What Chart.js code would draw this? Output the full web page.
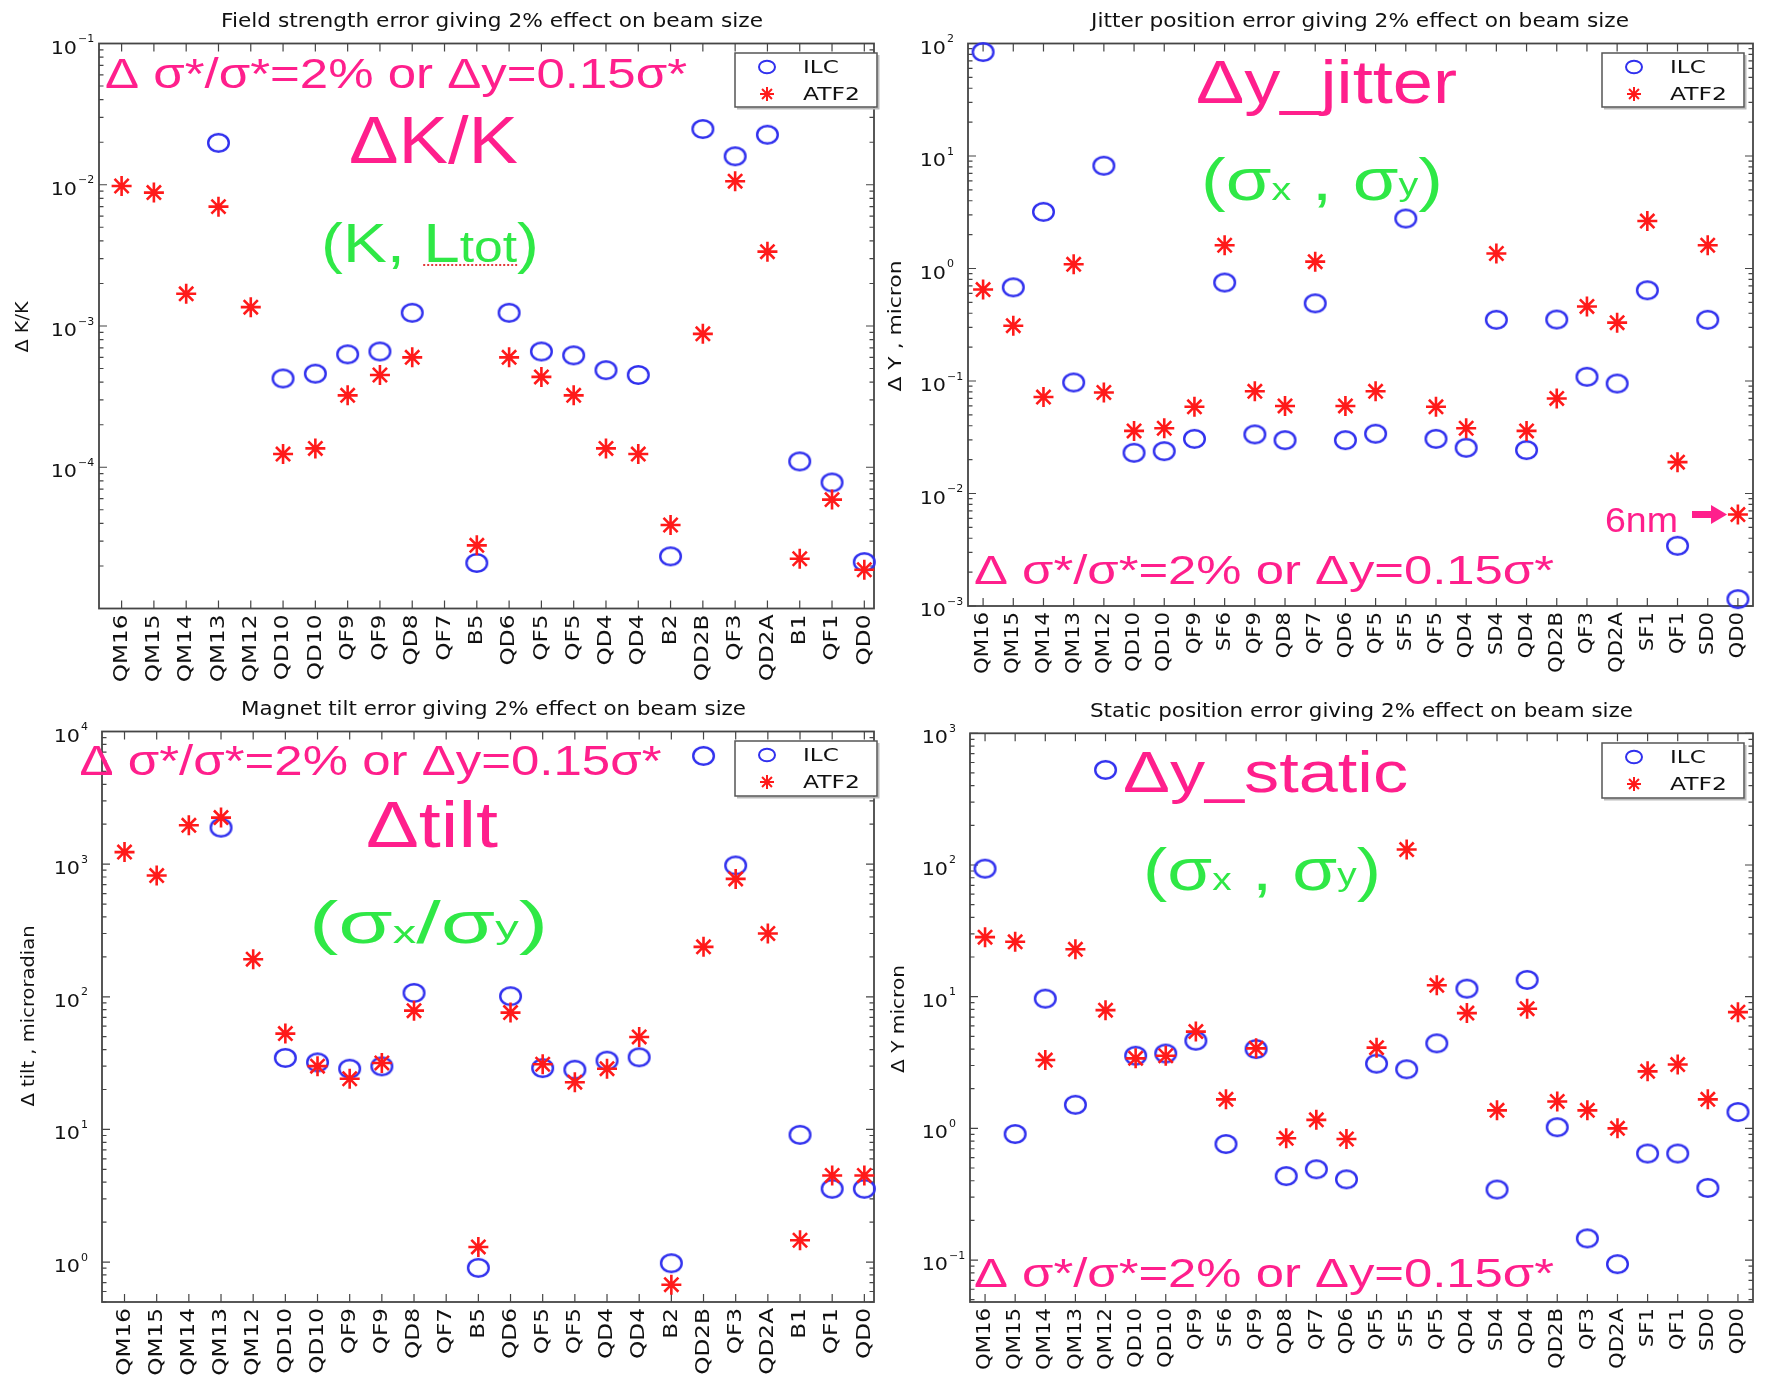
<!DOCTYPE html>
<html>
<head>
<meta charset="utf-8">
<title>Errors giving 2% effect on beam size: ILC vs ATF2</title>
<script src="https://cdn.jsdelivr.net/npm/chart.js@4.4.1/dist/chart.umd.min.js"></script>
<style>
  html, body { margin: 0; padding: 0; background: #fff; }
  #page { position: relative; width: 1781px; height: 1378px; overflow: hidden; background: #fff; }
  #page canvas { position: absolute; left: 0; top: 0; }
</style>
</head>
<body>
<div id="page">
  <canvas id="field" width="1781" height="1378"></canvas>
  <canvas id="jitter" width="1781" height="1378"></canvas>
  <canvas id="tilt" width="1781" height="1378"></canvas>
  <canvas id="static" width="1781" height="1378"></canvas>
</div>
<script>
// magnet names along the beam line
const magnetsLeft = ['QM16', 'QM15', 'QM14', 'QM13', 'QM12', 'QD10', 'QD10', 'QF9', 'QF9', 'QD8', 'QF7', 'B5',
  'QD6', 'QF5', 'QF5', 'QD4', 'QD4', 'B2', 'QD2B', 'QF3', 'QD2A', 'B1', 'QF1', 'QD0'];
const magnetsRight = ['QM16', 'QM15', 'QM14', 'QM13', 'QM12', 'QD10', 'QD10', 'QF9', 'SF6', 'QF9', 'QD8', 'QF7',
  'QD6', 'QF5', 'SF5', 'QF5', 'QD4', 'SD4', 'QD4', 'QD2B', 'QF3', 'QD2A', 'SF1', 'QF1', 'SD0', 'QD0'];

// field strength error dK/K
const fieldIlc = [null, null, null, 0.0198, null, 4.25e-4, 4.6e-4, 6.3e-4, 6.6e-4, 1.24e-3, null, 2.1e-5,
  1.24e-3, 6.6e-4, 6.2e-4, 4.87e-4, 4.5e-4, 2.34e-5, 0.0248, 0.0159, 0.0226, 1.1e-4, 7.8e-5, 2.13e-5];
const fieldAtf2 = [9.8e-3, 8.8e-3, 1.69e-3, 7.0e-3, 1.36e-3, 1.24e-4, 1.36e-4, 3.23e-4, 4.5e-4, 6.0e-4, null, 2.8e-5,
  6.0e-4, 4.36e-4, 3.23e-4, 1.36e-4, 1.24e-4, 3.9e-5, 8.8e-4, 0.0106, 3.36e-3, 2.25e-5, 5.9e-5, 1.88e-5];

// jitter position error, micron
const jitterIlc = [84, 0.68, 3.19, 0.097, 8.2, 0.023, 0.0238, 0.0306, 0.75, 0.0335, 0.0298, 0.49,
  0.0298, 0.034, 2.78, 0.0306, 0.0255, 0.35, 0.0243, 0.352, 0.109, 0.095, 0.64, 0.00343, 0.35, 0.00115];
const jitterAtf2 = [0.65, 0.31, 0.072, 1.09, 0.079, 0.036, 0.038, 0.059, 1.61, 0.081, 0.060, 1.15,
  0.060, 0.081, null, 0.059, 0.038, 1.36, 0.036, 0.070, 0.46, 0.33, 2.64, 0.019, 1.61, 0.0065];

// magnet tilt error, microradian
const tiltIlc = [null, null, null, 1884, null, 34.6, 32, 28.7, 29.9, 107, null, 0.905,
  101, 29, 28.2, 33, 35, 0.98, 6546, 977, null, 9.1, 3.57, 3.57];
const tiltAtf2 = [1233, 820, 1963, 2244, 192, 52.8, 30, 24.1, 31.7, 78.6, null, 1.30,
  76, 31, 22.7, 28.7, 49.8, 0.675, 238, 774, 300, 1.46, 4.5, 4.5];

// static position error, micron
const staticIlc = [93.8, 0.905, 9.66, 1.51, 527, 3.56, 3.7, 4.63, 0.76, 4.0, 0.434, 0.489,
  0.41, 3.1, 2.81, 4.42, 11.5, 0.343, 13.4, 1.02, 0.146, 0.093, 0.644, 0.644, 0.353, 1.33];
const staticAtf2 = [28.3, 26.1, 3.3, 22.9, 7.9, 3.4, 3.56, 5.43, 1.66, 4.05, 0.84, 1.16,
  0.83, 4.1, 131, 12.2, 7.5, 1.37, 8.1, 1.6, 1.37, 1.0, 2.71, 3.05, 1.66, 7.63];

// decade tick labels (exponents) per panel
const fieldDecades = [-1, -2, -3, -4];
const jitterDecades = [2, 1, 0, -1, -2, -3];
const tiltDecades = [4, 3, 2, 1, 0];
const staticDecades = [3, 2, 1, 0, -1];

const W = 1781, H = 1378;
const PINK = '#ff1f8c', GREEN = '#2fe846', BLUE = '#3030ee', RED = '#ff1a1a', AXIS = '#454545';
const SANS = '"DejaVu Sans", sans-serif';
const ARIAL = '"Liberation Sans", Arial, sans-serif';
const BIG = 'Δ σ*/σ*=2% or Δy=0.15σ*';

function drawText(ctx, s, x, y, o) {
  ctx.save();
  ctx.font = o.size + 'px ' + (o.family || SANS);
  ctx.fillStyle = o.color || '#111';
  ctx.textBaseline = o.baseline || 'alphabetic';
  ctx.textAlign = 'left';
  const w = ctx.measureText(s).width;
  const sx = o.width ? o.width / w : (o.sx || 1);
  ctx.translate(x, y);
  if (o.rot) ctx.rotate(o.rot);
  ctx.scale(sx, 1);
  let dx = 0;
  if (o.align === 'center') dx = -w / 2;
  else if (o.align === 'right') dx = -w;
  ctx.fillText(s, dx, 0);
  ctx.restore();
  return w * sx;
}

// pieces of text in mixed sizes, squeezed/stretched to a target width
function drawRuns(ctx, runs, x, y, width, color) {
  let total = 0;
  runs.forEach(r => {
    ctx.font = r.size + 'px ' + ARIAL;
    r.w = ctx.measureText(r.t).width;
    total += r.w;
  });
  const sx = width / total;
  let cx = x;
  const pos = [];
  runs.forEach(r => {
    drawText(ctx, r.t, cx, y + (r.dy || 0), { size: r.size, family: ARIAL, color, sx });
    pos.push([cx, cx + r.w * sx]);
    cx += r.w * sx;
  });
  return pos;
}

function ringImage(w, h, lw) {
  const c = document.createElement('canvas');
  c.width = w + 4; c.height = h + 4;
  const g = c.getContext('2d');
  g.strokeStyle = BLUE; g.lineWidth = lw;
  g.beginPath();
  g.ellipse(c.width / 2, c.height / 2, w / 2 - lw / 2, h / 2 - lw / 2, 0, 0, 2 * Math.PI);
  g.stroke();
  return c;
}
const ring = ringImage(23, 20, 2.4);

function drawLegend(ctx, L) {
  const { x, y, w, h } = L;
  ctx.save();
  ctx.strokeStyle = '#bbb'; ctx.lineWidth = 2;
  ctx.beginPath(); ctx.moveTo(x + 2, y + h + 1.5); ctx.lineTo(x + w + 1.5, y + h + 1.5); ctx.lineTo(x + w + 1.5, y + 2); ctx.stroke();
  ctx.fillStyle = '#fff'; ctx.fillRect(x, y, w, h);
  ctx.strokeStyle = '#555'; ctx.lineWidth = 1.5; ctx.strokeRect(x, y, w, h);
  const mx = x + 32, r1 = y + 14, r2 = y + 41;
  ctx.strokeStyle = BLUE; ctx.lineWidth = 2;
  ctx.beginPath(); ctx.ellipse(mx, r1, 8, 6.3, 0, 0, 2 * Math.PI); ctx.stroke();
  ctx.strokeStyle = RED; ctx.lineWidth = 2;
  ctx.beginPath();
  for (let k = 0; k < 4; k++) {
    const a = k * Math.PI / 4;
    ctx.moveTo(mx - 7 * Math.cos(a), r2 - 7 * Math.sin(a));
    ctx.lineTo(mx + 7 * Math.cos(a), r2 + 7 * Math.sin(a));
  }
  ctx.stroke();
  ctx.restore();
  drawText(ctx, 'ILC', x + 68, r1 + 1, { size: 18, baseline: 'middle', sx: 1.28, color: '#111' });
  drawText(ctx, 'ATF2', x + 68, r2 + 1, { size: 18, baseline: 'middle', sx: 1.3, color: '#111' });
}

function sigmaPair(sep) {
  return [
    { t: '(', size: 60 }, { t: 'σ', size: 60 }, { t: 'x', size: 32 },
    { t: sep, size: 60 }, { t: 'σ', size: 60 }, { t: 'y', size: 32, dy: -5 }, { t: ')', size: 60 }
  ];
}

const panels = [
  {
    id: 'field', cats: magnetsLeft, ilc: fieldIlc, atf2: fieldAtf2, decades: fieldDecades,
    area: { left: 99, top: 43.5, right: 874, bottom: 608.5 }, xmin: 0.3, xmax: 24.3, ymin: 1e-5, ymax: 1e-1,
    title: 'Field strength error giving 2% effect on beam size', titleX: 492, titleY: 26.5, titleW: 542,
    yTitle: 'Δ K/K', yTitleX: 24, yTitleY: 327, yTitleW: 51, labelSx: 1.16,
    legend: { x: 735, y: 53, w: 142, h: 54 },
    notes(ctx) {
      drawText(ctx, BIG, 105, 88, { size: 42, family: ARIAL, color: PINK, width: 582 });
      drawText(ctx, 'ΔK/K', 349, 163, { size: 66, family: ARIAL, color: PINK, width: 169 });
      const pos = drawRuns(ctx, [{ t: '(K, ', size: 56 }, { t: 'L', size: 56 }, { t: 'tot', size: 44 }, { t: ')', size: 56 }],
        321, 262, 218, GREEN);
      ctx.save();
      ctx.strokeStyle = '#e23a3a'; ctx.lineWidth = 2; ctx.setLineDash([2, 2]);
      ctx.beginPath(); ctx.moveTo(pos[1][0], 265); ctx.lineTo(pos[2][1], 265); ctx.stroke();
      ctx.restore();
    }
  },
  {
    id: 'jitter', cats: magnetsRight, ilc: jitterIlc, atf2: jitterAtf2, decades: jitterDecades,
    area: { left: 968, top: 43.5, right: 1753, bottom: 606 }, xmin: 0.5, xmax: 26.5, ymin: 1e-3, ymax: 1e2,
    title: 'Jitter position error giving 2% effect on beam size', titleX: 1360, titleY: 26.5, titleW: 538,
    yTitle: 'Δ Y , micron', yTitleX: 897, yTitleY: 326, yTitleW: 131, labelSx: 1.06,
    legend: { x: 1602, y: 53, w: 142, h: 54 },
    notes(ctx) {
      drawText(ctx, 'Δy_jitter', 1196, 103, { size: 62, family: ARIAL, color: PINK, width: 261 });
      drawRuns(ctx, sigmaPair(' , '), 1201, 200, 242, GREEN);
      drawText(ctx, BIG, 974, 584, { size: 40, family: ARIAL, color: PINK, width: 580 });
      drawText(ctx, '6nm', 1605, 532, { size: 35, family: ARIAL, color: PINK, width: 73 });
      ctx.save();
      ctx.fillStyle = PINK;
      ctx.fillRect(1692, 511, 22, 7);
      ctx.beginPath(); ctx.moveTo(1711, 505); ctx.lineTo(1727, 514.5); ctx.lineTo(1711, 524); ctx.closePath(); ctx.fill();
      ctx.restore();
    }
  },
  {
    id: 'tilt', cats: magnetsLeft, ilc: tiltIlc, atf2: tiltAtf2, decades: tiltDecades,
    area: { left: 102, top: 731.5, right: 874, bottom: 1302 }, xmin: 0.3, xmax: 24.3, ymin: 0.5, ymax: 1e4,
    title: 'Magnet tilt error giving 2% effect on beam size', titleX: 493.5, titleY: 715, titleW: 505,
    yTitle: 'Δ tilt , microradian', yTitleX: 30, yTitleY: 1016, yTitleW: 181, labelSx: 1.16,
    legend: { x: 735, y: 741, w: 142, h: 55 },
    notes(ctx) {
      drawText(ctx, BIG, 79.5, 775, { size: 42, family: ARIAL, color: PINK, width: 582 });
      drawText(ctx, 'Δtilt', 366, 847, { size: 65, family: ARIAL, color: PINK, width: 132 });
      drawRuns(ctx, sigmaPair('/'), 309, 943, 239, GREEN);
    }
  },
  {
    id: 'static', cats: magnetsRight, ilc: staticIlc, atf2: staticAtf2, decades: staticDecades,
    area: { left: 970, top: 733.3, right: 1753, bottom: 1302 }, xmin: 0.5, xmax: 26.5, ymin: 0.048, ymax: 1e3,
    title: 'Static position error giving 2% effect on beam size', titleX: 1361.5, titleY: 716.5, titleW: 543,
    yTitle: 'Δ Y micron', yTitleX: 900, yTitleY: 1019, yTitleW: 108, labelSx: 1.06,
    legend: { x: 1602, y: 743, w: 142, h: 55 },
    notes(ctx) {
      drawText(ctx, 'Δy_static', 1123, 792, { size: 58, family: ARIAL, color: PINK, width: 285 });
      drawRuns(ctx, sigmaPair(' , '), 1143, 890, 238, GREEN);
      drawText(ctx, BIG, 974, 1287, { size: 40, family: ARIAL, color: PINK, width: 580 });
    }
  }
];

function framePlugin(p) {
  return {
    id: 'frame_' + p.id,
    beforeDatasetsDraw(chart) {
      const ctx = chart.ctx;
      const { left, top, right, bottom } = chart.chartArea;
      const xs = chart.scales.x, ys = chart.scales.y;
      ctx.save();
      ctx.strokeStyle = AXIS; ctx.lineWidth = 1.8;
      ctx.strokeRect(left, top, right - left, bottom - top);
      ctx.lineWidth = 1.2;
      ctx.beginPath();
      for (let i = 1; i <= p.cats.length; i++) {
        const px = xs.getPixelForValue(i);
        ctx.moveTo(px, bottom); ctx.lineTo(px, bottom - 8);
        ctx.moveTo(px, top); ctx.lineTo(px, top + 8);
      }
      const e0 = Math.floor(Math.log10(p.ymin)), e1 = Math.ceil(Math.log10(p.ymax));
      for (let e = e0; e <= e1; e++) {
        for (let m = 1; m <= 9; m++) {
          const v = m * Math.pow(10, e);
          if (v < p.ymin * 0.999 || v > p.ymax * 1.001) continue;
          const py = ys.getPixelForValue(v);
          const len = m === 1 ? 8 : 4.5;
          ctx.moveTo(left, py); ctx.lineTo(left + len, py);
          ctx.moveTo(right, py); ctx.lineTo(right - len, py);
        }
      }
      ctx.stroke();
      ctx.restore();

      // tick labels
      p.decades.forEach(e => {
        const py = ys.getPixelForValue(Math.pow(10, e));
        const w10 = drawText(ctx, '10', left - 22, py + 10, { size: 18, align: 'right', sx: 1.15, color: '#111' });
        drawText(ctx, String(e).replace('-', '\u2212'), left - 21, py - 1.5, { size: 10, sx: 1.1, color: '#111' });
      });
      p.cats.forEach((name, i) => {
        const px = xs.getPixelForValue(i + 1);
        drawText(ctx, name, px, bottom + 6, { size: 20, rot: -Math.PI / 2, align: 'right', baseline: 'middle', sx: p.labelSx, color: '#111' });
      });
      drawText(ctx, p.yTitle, p.yTitleX, p.yTitleY, { size: 17, rot: -Math.PI / 2, align: 'center', baseline: 'middle', width: p.yTitleW, color: '#111' });
      drawText(ctx, p.title, p.titleX, p.titleY, { size: 20, align: 'center', width: p.titleW, color: '#111' });
    },
    afterDraw(chart) {
      const ctx = chart.ctx;
      drawLegend(ctx, p.legend);
      p.notes(ctx);
    }
  };
}

function toPoints(vals) {
  return vals.map((v, i) => (v == null ? null : { x: i + 1, y: v })).filter(pt => pt);
}

panels.forEach(p => {
  const a = p.area;
  new Chart(document.getElementById(p.id), {
    type: 'scatter',
    data: {
      datasets: [
        {
          label: 'ILC', data: toPoints(p.ilc), order: 1, clip: false,
          pointStyle: ring, pointRadius: 11, pointBorderColor: BLUE, pointBackgroundColor: 'transparent'
        },
        {
          label: 'ATF2', data: toPoints(p.atf2), order: 0, clip: false,
          pointStyle: 'star', pointRadius: 10, pointBorderWidth: 2.6, pointBorderColor: RED, pointBackgroundColor: RED
        }
      ]
    },
    options: {
      responsive: false,
      animation: false,
      devicePixelRatio: 1,
      events: [],
      layout: { autoPadding: false, padding: { left: a.left, top: a.top, right: W - a.right, bottom: H - a.bottom } },
      plugins: { legend: { display: false }, tooltip: { enabled: false }, title: { display: false } },
      scales: {
        x: { type: 'linear', display: false, min: p.xmin, max: p.xmax },
        y: { type: 'logarithmic', display: false, min: p.ymin, max: p.ymax }
      }
    },
    plugins: [framePlugin(p)]
  });
});
</script>
</body>
</html>
